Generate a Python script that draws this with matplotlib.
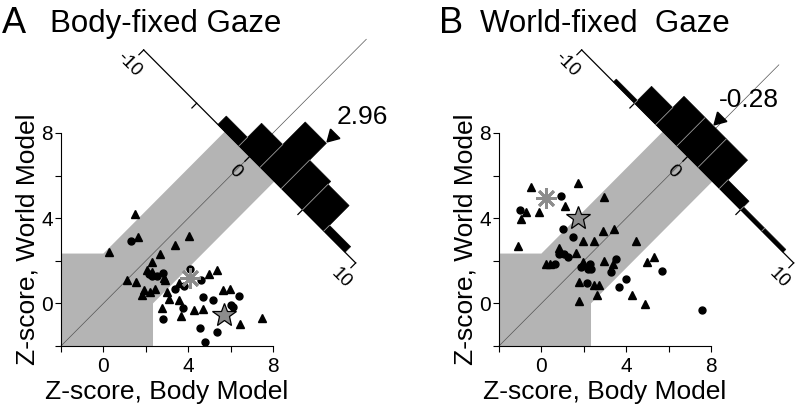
import numpy as np
import matplotlib
matplotlib.use("Agg")
import matplotlib.pyplot as plt
from matplotlib.patches import Polygon

plt.rcParams['font.family'] = ['Liberation Sans', 'DejaVu Sans']

# ---- panel A: body-fixed gaze ----
a_tri_x = [1.47, 1.63, 0.28, 3.39, 4.02, 2.65, 2.29, 2.06, 2.29, 1.11, 1.55, 1.9, 1.82, 2.18, 2.45,
           2.84, 2.92, 3.0, 3.11, 3.55, 3.55, 2.76, 3.65, 4.28, 4.72, 4.96, 5.35, 5.66, 5.95, 6.45, 7.5]
a_tri_y = [4.22, 3.12, 2.41, 2.76, 3.15, 2.34, 1.94, 1.55, 1.47, 1.11, 1.0, 0.64, 0.41, 0.53, 0.69,
           1.21, 1.1, 0.53, 0.22, 0.96, 0.17, -0.2, -0.61, -0.33, -0.25, 1.36, 1.55, 0.64, 0.69, -0.99, -0.67]
a_dot_x = [1.32, 2.81, 2.53, 2.29, 2.15, 3.39, 3.78, 4.09, 4.6, 4.72, 5.16, 6.4, 6.01, 6.09, 3.75,
           2.79, 4.56, 5.38, 4.81]
a_dot_y = [2.92, 1.44, 1.27, 1.3, 1.38, 0.69, 0.81, 1.63, 1.08, 0.3, 0.17, 0.34, -0.06, -0.17, -0.22,
           -0.72, -1.14, -1.36, -1.82]
a_star = (5.69, -0.56)
a_ast = (4.09, 1.21)
a_bins = [-3, -1, 1, 3, 5, 7, 9]
a_counts = [3, 8, 16, 10, 9, 2]
a_mean = 2.96

# ---- panel B: world-fixed gaze ----
b_tri_x = [-0.51, 1.73, -0.75, -0.98, -0.1, 1.11, 2.97, -1.1, 2.91, 3.43, 1.95, 2.5, 4.46, 0.84, 1.62,
           0.2, 0.4, 1.94, 2.97, 3.37, 1.78, 2.47, 2.72, 2.6, 1.78, 4.28, 5.29, 5.0, 4.9]
b_tri_y = [5.46, 5.65, 4.3, 3.97, 4.31, 4.55, 5.0, 2.7, 3.42, 3.5, 2.93, 2.94, 2.95, 2.6, 2.37,
           1.85, 1.85, 1.96, 1.98, 1.85, 1.02, 0.86, 0.86, 0.39, 0.12, 0.38, 2.19, 1.93, -0.03]
b_dot_x = [0.92, -1.02, 1.0, 1.5, 0.84, 1.05, 1.25, 0.62, 1.86, 2.3, 2.22, 2.32, 3.52, 3.26, 2.17,
           3.66, 4.0, 5.67, 7.57]
b_dot_y = [5.04, 4.4, 3.5, 3.1, 2.32, 2.3, 2.18, 1.85, 1.72, 1.83, 1.62, 1.6, 2.07, 1.46, 0.97,
           0.75, 1.14, 1.52, -0.32]
b_star = (1.73, 4.0)
b_ast = (0.21, 4.97)
b_bins = [-7, -5, -3, -1, 1, 3, 5, 7, 9]
b_counts = [1, 6, 10, 10, 10, 3, 1, 1]
b_mean = -0.28

ticks = [-2, 0, 2, 4, 6, 8]
ticklabels = ['', '0', '', '4', '', '8']

s0 = 13.8        # x + y of the histogram baseline
unit = 0.265     # one count in data units
half = 2.34      # half width of the grey band
grey = '#b4b4b4'


def ds(d, s):
    # (difference, sum) -> (x, y)
    return ((s + d) / 2.0, (s - d) / 2.0)


def panel(ax, tx, ty, cx, cy, star, ast, bins, counts, mean, diag_end, label):
    ax.set_xlim(-2, 8)
    ax.set_ylim(-2, 8)
    for sp in ['top', 'right']:
        ax.spines[sp].set_visible(False)
    for sp in ['left', 'bottom']:
        ax.spines[sp].set_linewidth(0.8)
    ax.set_xticks(ticks)
    ax.set_xticklabels(ticklabels)
    ax.set_yticks(ticks)
    ax.set_yticklabels(ticklabels)
    ax.tick_params(direction='out', length=4, width=0.8, labelsize=15)
    ax.tick_params(axis='x', pad=4)
    ax.tick_params(axis='y', pad=2)
    ax.set_xlabel('Z-score, Body Model', fontsize=19, labelpad=3)
    ax.set_ylabel('Z-score, World Model', fontsize=19, labelpad=1)

    # grey region: joint threshold square plus diagonal band
    pts = [(-2, -2), (half, -2), (half, 0), ds(half, s0), ds(-half, s0), (0, half), (-2, half)]
    ax.add_patch(Polygon(pts, closed=True, fc=grey, ec='none', zorder=1, clip_on=False))
    ax.plot([-2, diag_end], [-2, diag_end], color='#555555', lw=0.5, zorder=2, clip_on=False)

    # histogram axis along the anti-diagonal
    p0 = ds(-10, s0)
    p1 = ds(10, s0)
    ax.plot([p0[0], p1[0]], [p0[1], p1[1]], color='k', lw=0.9, zorder=2, clip_on=False)
    for v in [-10, -5, 0, 5, 10]:
        q0 = ds(v, s0)
        q1 = ds(v, s0 - 0.45)
        ax.plot([q0[0], q1[0]], [q0[1], q1[1]], color='k', lw=0.9, zorder=2, clip_on=False)
    for v, t in [(-10, '-10'), (0, '0'), (10, '10')]:
        px, py = ds(v, 12.4)
        ax.text(px, py, t, rotation=-45, fontsize=13.5, ha='center', va='center',
                rotation_mode='anchor', zorder=5)

    # histogram bars, black fill with light separators between bins
    for i, c in enumerate(counts):
        d0, d1 = bins[i], bins[i + 1]
        h = c * unit
        bar = [ds(d0, s0), ds(d1, s0), ds(d1, s0 + h), ds(d0, s0 + h)]
        ax.add_patch(Polygon(bar, closed=True, fc='k', ec='k', lw=0.4, zorder=4, clip_on=False))
    for i in range(1, len(counts)):
        h = min(counts[i - 1], counts[i]) * unit
        q0 = ds(bins[i], s0)
        q1 = ds(bins[i], s0 + h)
        ax.plot([q0[0], q1[0]], [q0[1], q1[1]], color='#9a9a9a', lw=0.6, zorder=4.5, clip_on=False)

    # mean marker
    k = np.searchsorted(bins, mean) - 1
    mx, my = ds(mean, s0 + counts[k] * unit + 0.6)
    ax.plot(mx, my, marker=(3, 0, 135), ms=11, color='k', zorder=5, clip_on=False)
    ax.text(mx + 1.4, my + 0.9, label, fontsize=19, ha='center', va='center', zorder=5)

    # points
    ax.plot(tx, ty, ls='none', marker='^', ms=5.5, color='k', zorder=3, clip_on=False)
    ax.plot(cx, cy, ls='none', marker='o', ms=5, color='k', zorder=3, clip_on=False)
    ax.plot(ast[0], ast[1], marker=(8, 2, 0), ms=15, mew=2, color='#8c8c8c', zorder=3.5)
    ax.plot(star[0], star[1], marker='*', ms=18, mfc='#8c8c8c', mec='k', mew=0.9, zorder=3.5)


fig = plt.figure(figsize=(7.96, 4.16), dpi=100)
axA = fig.add_axes([61 / 796, 70 / 416, 212 / 796, 213 / 416])
axB = fig.add_axes([499 / 796, 70 / 416, 212 / 796, 213 / 416])

panel(axA, a_tri_x, a_tri_y, a_dot_x, a_dot_y, a_star, a_ast, a_bins, a_counts, a_mean, 12.4, '2.96')
panel(axB, b_tri_x, b_tri_y, b_dot_x, b_dot_y, b_star, b_ast, b_bins, b_counts, b_mean, 11.2, '-0.28')

fig.text(2 / 796, 1 - 33 / 416, 'A', fontsize=26, ha='left', va='baseline')
fig.text(50 / 796, 1 - 32 / 416, 'Body-fixed Gaze', fontsize=22.5, ha='left', va='baseline')
fig.text(439 / 796, 1 - 33 / 416, 'B', fontsize=26, ha='left', va='baseline')
fig.text(480 / 796, 1 - 32 / 416, 'World-fixed  Gaze', fontsize=22.5, ha='left', va='baseline')

fig.savefig('out.png', dpi=100)
